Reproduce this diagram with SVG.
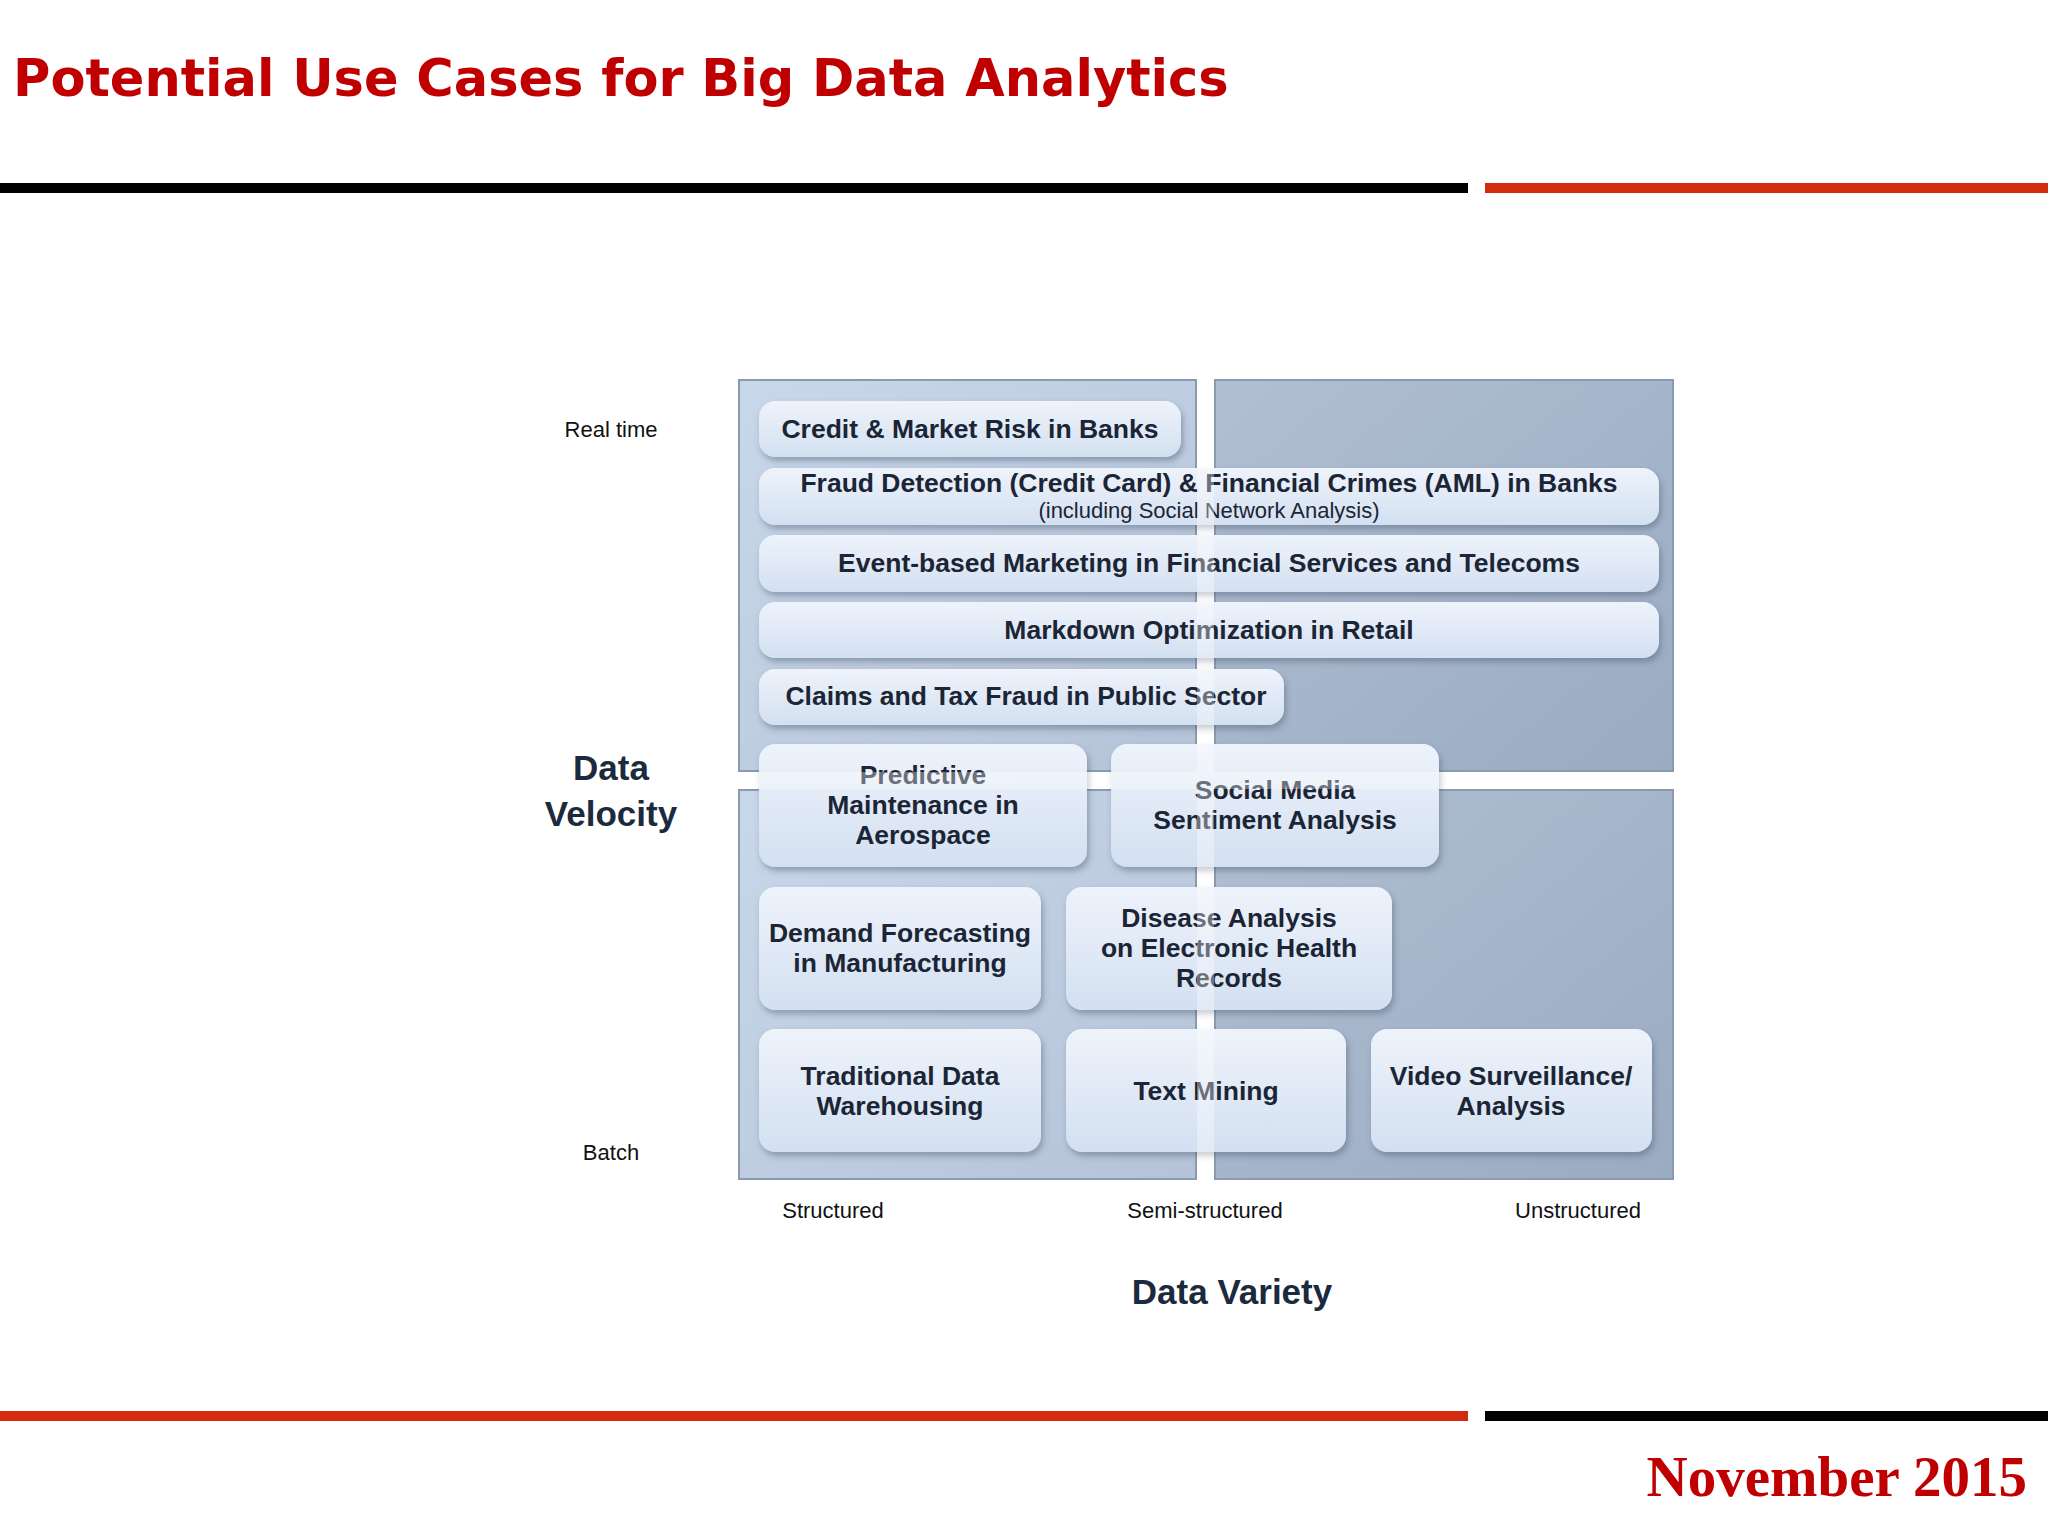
<svg xmlns="http://www.w3.org/2000/svg" width="2048" height="1536" viewBox="0 0 2048 1536">
<defs>
<linearGradient id="qL" x1="0" y1="0" x2="1" y2="1"><stop offset="0" stop-color="#c9d7ea"/><stop offset="1" stop-color="#b4c3d8"/></linearGradient>
<linearGradient id="qR" x1="0" y1="0" x2="1" y2="1"><stop offset="0" stop-color="#b0bfd3"/><stop offset="1" stop-color="#9aabc2"/></linearGradient>
<linearGradient id="bx" x1="0" y1="0" x2="0" y2="1"><stop offset="0" stop-color="#eef3fb"/><stop offset="1" stop-color="#d3e0f1"/></linearGradient>
<filter id="sh" x="-10%" y="-20%" width="120%" height="150%"><feDropShadow dx="2" dy="4" stdDeviation="3" flood-color="#4a5a70" flood-opacity="0.45"/></filter>
</defs>
<style>
.q{stroke:#8a9ab0;stroke-width:2}
.b{fill:url(#bx);filter:url(#sh)}
.t{font-family:"Liberation Sans",Arial,sans-serif;font-weight:bold;font-size:26.5px;fill:#1b2535;text-anchor:middle}
.s{font-family:"Liberation Sans",Arial,sans-serif;font-size:22px;fill:#1b2535;text-anchor:middle}
.ax{font-family:"Liberation Sans",Arial,sans-serif;font-size:22px;fill:#111;text-anchor:middle}
.ah{font-family:"Liberation Sans",Arial,sans-serif;font-weight:bold;font-size:35px;fill:#1b2a3d;text-anchor:middle}
</style>
<rect width="2048" height="1536" fill="#fff"/>
<text x="13" y="96" font-family="'DejaVu Sans',Verdana,sans-serif" font-weight="bold" font-size="51" fill="#c00000">Potential Use Cases for Big Data Analytics</text>
<rect x="0" y="183" width="1468" height="10" fill="#000"/>
<rect x="1485" y="183" width="563" height="10" fill="#d42a10"/>
<rect x="0" y="1411" width="1468" height="10" fill="#d42a10"/>
<rect x="1485" y="1411" width="563" height="10" fill="#000"/>
<text x="2027" y="1496" text-anchor="end" font-family="'Liberation Serif','Times New Roman',serif" font-weight="bold" font-size="57" fill="#c00000">November 2015</text>
<g id="quadrants">
<rect class="q" x="739" y="380" width="457" height="391" fill="url(#qL)"/>
<rect class="q" x="1215" y="380" width="458" height="391" fill="url(#qR)"/>
<rect class="q" x="739" y="790" width="457" height="389" fill="url(#qL)"/>
<rect class="q" x="1215" y="790" width="458" height="389" fill="url(#qR)"/>
</g>
<g id="n1"><rect class="b" x="759" y="401" width="422" height="56" rx="16"/><text class="t" x="970" y="438">Credit &amp; Market Risk in Banks</text></g>
<g id="n2"><rect class="b" x="759" y="468" width="900" height="57" rx="16"/><text class="t" x="1209" y="492">Fraud Detection (Credit Card) &amp; Financial Crimes (AML) in Banks</text><text class="s" x="1209" y="518">(including Social Network Analysis)</text></g>
<g id="n3"><rect class="b" x="759" y="535" width="900" height="57" rx="16"/><text class="t" x="1209" y="572">Event-based Marketing in Financial Services and Telecoms</text></g>
<g id="n4"><rect class="b" x="759" y="602" width="900" height="56" rx="16"/><text class="t" x="1209" y="639">Markdown Optimization in Retail</text></g>
<g id="n5"><rect class="b" x="759" y="669" width="525" height="56" rx="16"/><text class="t" x="1026" y="705">Claims and Tax Fraud in Public Sector</text></g>
<g id="n6"><rect class="b" x="759" y="744" width="328" height="123" rx="16"/><text class="t" x="923" y="784">Predictive</text><text class="t" x="923" y="814">Maintenance in</text><text class="t" x="923" y="844">Aerospace</text></g>
<g id="n7"><rect class="b" x="1111" y="744" width="328" height="123" rx="16"/><text class="t" x="1275" y="799">Social Media</text><text class="t" x="1275" y="829">Sentiment Analysis</text></g>
<g id="n8"><rect class="b" x="759" y="887" width="282" height="123" rx="16"/><text class="t" x="900" y="942">Demand Forecasting</text><text class="t" x="900" y="972">in Manufacturing</text></g>
<g id="n9"><rect class="b" x="1066" y="887" width="326" height="123" rx="16"/><text class="t" x="1229" y="927">Disease Analysis</text><text class="t" x="1229" y="957">on Electronic Health</text><text class="t" x="1229" y="987">Records</text></g>
<g id="n10"><rect class="b" x="759" y="1029" width="282" height="123" rx="16"/><text class="t" x="900" y="1085">Traditional Data</text><text class="t" x="900" y="1115">Warehousing</text></g>
<g id="n11"><rect class="b" x="1066" y="1029" width="280" height="123" rx="16"/><text class="t" x="1206" y="1100">Text Mining</text></g>
<g id="n12"><rect class="b" x="1371" y="1029" width="281" height="123" rx="16"/><text class="t" x="1511" y="1085">Video Surveillance/</text><text class="t" x="1511" y="1115">Analysis</text></g>
<g id="gaps" opacity="0.35" fill="#fff">
<rect x="1197" y="380" width="17" height="799"/>
<rect x="739" y="772" width="934" height="17"/>
</g>
<g id="connectors"/>
<g id="axes">
<text class="ax" x="611" y="437">Real time</text>
<text class="ax" x="611" y="1160">Batch</text>
<text class="ah" x="611" y="780">Data</text>
<text class="ah" x="611" y="826">Velocity</text>
<text class="ax" x="833" y="1218">Structured</text>
<text class="ax" x="1205" y="1218">Semi-structured</text>
<text class="ax" x="1578" y="1218">Unstructured</text>
<text class="ah" x="1232" y="1304">Data Variety</text>
</g>
</svg>
